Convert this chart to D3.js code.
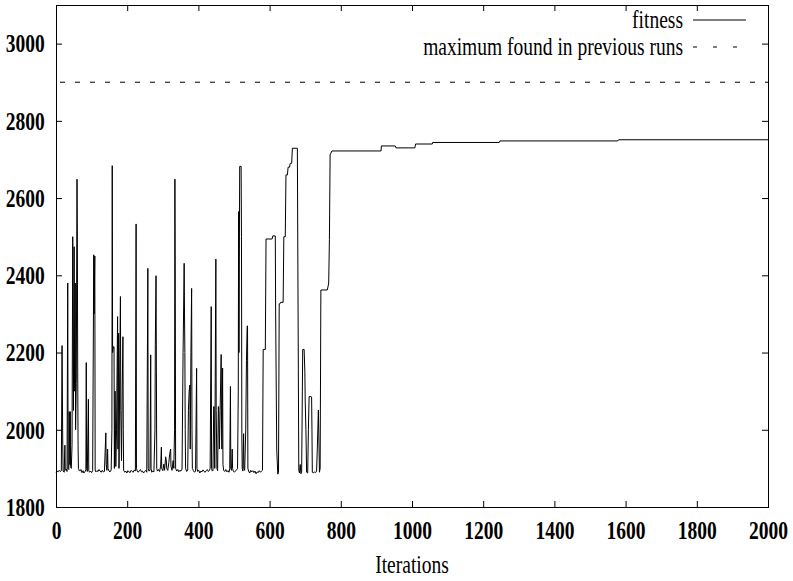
<!DOCTYPE html>
<html>
<head>
<meta charset="utf-8">
<script src="https://cdn.jsdelivr.net/npm/d3@7"></script>
<style>
  body { margin: 0; background: #fff; }
  text { font-family: "Liberation Serif", "Times New Roman", serif; fill: #000; }
</style>
</head>
<body>
<svg id="chart" width="793" height="581"></svg>
<script>
// ticks
const xTicks = [0, 200, 400, 600, 800, 1000, 1200, 1400, 1600, 1800, 2000];
const yTicks = [1800, 2000, 2200, 2400, 2600, 2800, 3000];
const xLabel = 'Iterations';
const seriesNames = ['fitness', 'maximum found in previous runs'];

// best of the previous runs (dashed line)
const previousMax = 2900;

// fitness per iteration [iteration, value]
const fitness = [
  [0, 1890], [3, 1893], [6, 1891], [9, 1895], [12, 1892], [15, 1894], [17, 2218], [19, 1960],
  [20, 1893], [23, 1890], [25, 1960], [26, 1895], [29, 1898], [31, 1892], [33, 2380], [34, 1900],
  [36, 1897], [37, 2047], [39, 1910], [40, 2047], [41, 1905], [43, 1900], [45, 1960], [47, 2500],
  [48, 2300], [49, 2050], [51, 2474], [52, 2100], [54, 2380], [55, 2000], [57, 2120], [59, 2649],
  [60, 2494], [61, 2150], [62, 1960], [63, 1900], [65, 1895], [67, 1893], [70, 1897], [73, 1889],
  [76, 1894], [78, 1888], [81, 1891], [84, 1896], [85, 2174], [86, 1900], [88, 1892], [91, 2079],
  [92, 1895], [94, 1890], [97, 1893], [100, 1889], [103, 1894], [106, 2453], [107, 2300], [109, 2450],
  [110, 1896], [112, 1891], [115, 1894], [118, 1892], [121, 1897], [124, 1893], [127, 1890], [130, 1895],
  [133, 1891], [136, 1892], [140, 1992], [141, 1910], [143, 1895], [145, 1950], [146, 1900], [149, 1893],
  [152, 1891], [155, 1896], [157, 2000], [158, 2684], [159, 2200], [161, 2215], [163, 2215], [164, 1900],
  [166, 2100], [168, 1905], [170, 2000], [173, 2293], [174, 1950], [176, 2250], [177, 1900], [179, 2150],
  [181, 2345], [182, 2050], [184, 1920], [186, 2100], [188, 2241], [189, 2000], [190, 1895], [193, 1890],
  [196, 1893], [199, 1888], [202, 1894], [205, 1891], [208, 1889], [211, 1895], [214, 1892], [217, 1890],
  [220, 1896], [223, 1893], [225, 2533], [226, 1900], [228, 1893], [231, 1890], [234, 1894], [237, 1897],
  [240, 1891], [243, 1893], [246, 1888], [249, 1892], [252, 1895], [255, 1890], [258, 2418], [259, 1900],
  [261, 1893], [264, 1895], [266, 2194], [267, 1900], [269, 1890], [272, 1893], [275, 1891], [278, 2000],
  [279, 2220], [281, 2399], [282, 2150], [283, 1900], [285, 1893], [288, 1897], [291, 1892], [294, 1906],
  [296, 1955], [297, 1900], [300, 1894], [303, 1911], [305, 1895], [308, 1930], [310, 1920], [311, 1900],
  [314, 1895], [317, 1915], [319, 1935], [322, 1950], [323, 1905], [326, 1895], [329, 1920], [331, 1900],
  [333, 2000], [334, 2649], [335, 2380], [336, 1900], [339, 1893], [342, 1897], [345, 1891], [348, 1895],
  [351, 1893], [354, 1898], [357, 2200], [360, 2431], [361, 2300], [362, 2200], [363, 2000], [364, 1900],
  [367, 1892], [370, 1896], [372, 2050], [374, 2100], [376, 2116], [377, 1950], [379, 2200], [381, 2366],
  [382, 2000], [383, 1900], [386, 1894], [389, 1890], [392, 1893], [395, 2159], [396, 1900], [398, 1892],
  [401, 1895], [404, 1888], [407, 1893], [410, 1891], [413, 1896], [416, 1892], [419, 1890], [422, 1894],
  [425, 1897], [428, 1892], [431, 1895], [433, 1900], [436, 2319], [437, 1900], [439, 1893], [441, 1895],
  [443, 2060], [444, 2060], [446, 1900], [449, 2442], [450, 2050], [452, 1900], [454, 1894], [456, 2060],
  [457, 2060], [459, 1950], [461, 2050], [464, 2195], [465, 2000], [466, 1950], [468, 2160], [469, 1910],
  [471, 1895], [474, 1892], [477, 1897], [480, 1891], [483, 1894], [486, 1890], [488, 1900], [490, 2112],
  [491, 1900], [493, 1895], [495, 1950], [496, 1900], [498, 1893], [501, 1890], [504, 1893], [507, 1896],
  [510, 1900], [512, 2100], [513, 2565], [514, 2200], [516, 2682], [520, 2682], [521, 2500], [522, 1990],
  [523, 1900], [525, 1893], [527, 1990], [528, 1900], [530, 1895], [533, 2000], [535, 2180], [537, 2269],
  [538, 2269], [539, 1900], [541, 1893], [544, 1888], [547, 1895], [550, 1891], [553, 1894], [556, 1889],
  [559, 1893], [562, 1886], [565, 1891], [568, 1889], [571, 1894], [574, 1890], [577, 1893], [580, 1895],
  [582, 2208], [588, 2208], [590, 2494], [607, 2494], [609, 2502], [616, 2502], [617, 2300], [620, 1950],
  [623, 1885], [625, 1890], [627, 2326], [629, 2326], [631, 2330], [638, 2330], [640, 2500], [644, 2500],
  [646, 2660], [650, 2660], [652, 2680], [656, 2680], [658, 2690], [662, 2690], [664, 2729], [678, 2729],
  [680, 2300], [682, 1895], [684, 1888], [686, 1910], [688, 1886], [690, 1890], [692, 2100], [693, 2208],
  [697, 2208], [699, 2150], [700, 2077], [702, 2000], [704, 1890], [707, 1888], [709, 2000], [711, 2086],
  [716, 2086], [718, 2085], [719, 2000], [720, 1890], [723, 1888], [726, 1891], [729, 1889], [732, 1893],
  [734, 1950], [737, 2051], [739, 1950], [740, 1890], [742, 1900], [744, 2362], [762, 2362], [764, 2370],
  [766, 2380], [768, 2492], [770, 2712], [775, 2722], [913, 2722], [914, 2735], [953, 2735], [955, 2730],
  [1008, 2730], [1010, 2740], [1057, 2740], [1058, 2744], [1245, 2744], [1247, 2748], [1578, 2748],
  [1580, 2751], [2000, 2751]
];

const W = 793, H = 581;
const margin = { left: 56, right: 25, top: 5, bottom: 74 };
const squeeze = 'scale(0.75,1)'; // the original text is narrow

const svg = d3.select('#chart');

const x = d3.scaleLinear().domain([0, 2000]).range([margin.left, W - margin.right]);
const y = d3.scaleLinear().domain([1800, 3100]).range([H - margin.bottom, margin.top]);

// axes with ticks pointing inwards on all four sides
const xBottom = svg.append('g')
  .attr('transform', `translate(0, ${y(1800)})`)
  .call(d3.axisBottom(x).tickValues(xTicks).tickFormat(d3.format('d'))
    .tickSizeInner(-6).tickSizeOuter(0).tickPadding(14));

const xTop = svg.append('g')
  .attr('transform', `translate(0, ${y(3100)})`)
  .call(d3.axisTop(x).tickValues(xTicks).tickSizeInner(-6).tickSizeOuter(0).tickFormat(''));

const yLeft = svg.append('g')
  .attr('transform', `translate(${x(0)}, 0)`)
  .call(d3.axisLeft(y).tickValues(yTicks).tickFormat(d3.format('d'))
    .tickSizeInner(-6).tickSizeOuter(0));

const yRight = svg.append('g')
  .attr('transform', `translate(${x(2000)}, 0)`)
  .call(d3.axisRight(y).tickValues(yTicks).tickSizeInner(-6).tickSizeOuter(0).tickFormat(''));

[xBottom, xTop, yLeft, yRight].forEach(a => {
  a.select('.domain').remove();
  a.selectAll('line').attr('stroke', '#000');
});

xBottom.selectAll('text')
  .attr('font-size', 26)
  .attr('font-weight', 'bold')
  .attr('transform', squeeze);

yLeft.selectAll('text')
  .attr('font-size', 26)
  .attr('font-weight', 'bold')
  .attr('x', -15)
  .attr('transform', squeeze);

// frame
svg.append('rect')
  .attr('x', x(0))
  .attr('y', y(3100))
  .attr('width', x(2000) - x(0))
  .attr('height', y(1800) - y(3100))
  .attr('fill', 'none')
  .attr('stroke', '#000')
  .attr('shape-rendering', 'crispEdges');

// dashed line: previous maximum
svg.append('line')
  .attr('x1', x(0))
  .attr('x2', x(2000))
  .attr('y1', y(previousMax))
  .attr('y2', y(previousMax))
  .attr('stroke', '#000')
  .attr('stroke-dasharray', '5,10')
  .attr('stroke-dashoffset', -4);

// fitness curve
const line = d3.line()
  .x(d => x(d[0]))
  .y(d => y(d[1]));

svg.append('path')
  .datum(fitness)
  .attr('d', line)
  .attr('fill', 'none')
  .attr('stroke', '#000')
  .attr('stroke-width', 1);

// axis title
svg.append('g')
  .attr('transform', `translate(${(x(0) + x(2000)) / 2}, 573) ${squeeze}`)
  .append('text')
  .attr('text-anchor', 'middle')
  .attr('font-size', 26)
  .text(xLabel);

// legend
const legendY = [20, 47];
seriesNames.forEach((name, i) => {
  svg.append('g')
    .attr('transform', `translate(683, ${legendY[i] + 8}) ${squeeze}`)
    .append('text')
    .attr('text-anchor', 'end')
    .attr('font-size', 26)
    .text(name);

  svg.append('line')
    .attr('x1', 693)
    .attr('x2', 746)
    .attr('y1', legendY[i])
    .attr('y2', legendY[i])
    .attr('stroke', '#000')
    .attr('stroke-dasharray', i === 0 ? null : '4,16');
});
</script>
</body>
</html>
